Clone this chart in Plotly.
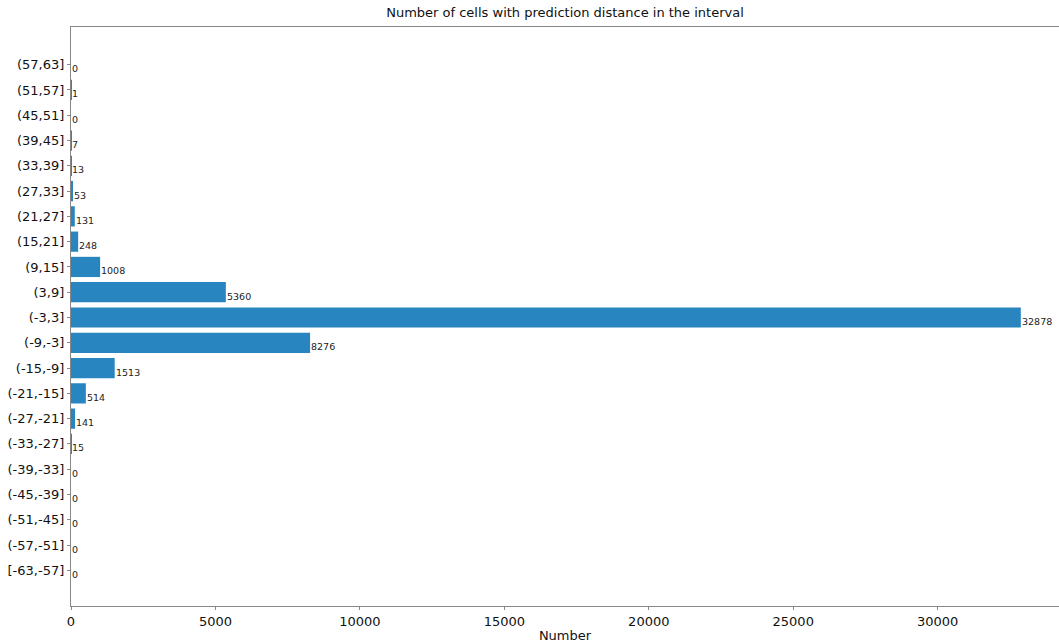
import plotly.graph_objects as go

categories = ["[-63,-57]", "(-57,-51]", "(-51,-45]", "(-45,-39]", "(-39,-33]", "(-33,-27]",
              "(-27,-21]", "(-21,-15]", "(-15,-9]", "(-9,-3]", "(-3,3]", "(3,9]", "(9,15]",
              "(15,21]", "(21,27]", "(27,33]", "(33,39]", "(39,45]", "(45,51]", "(51,57]", "(57,63]"]
counts = [0, 0, 0, 0, 0, 15, 141, 514, 1513, 8276, 32878, 5360, 1008, 248, 131, 53, 13, 7, 0, 1, 0]
x_ticks = [0, 5000, 10000, 15000, 20000, 25000, 30000]

positions = list(range(len(categories)))
font = "DejaVu Sans, Liberation Sans, sans-serif"

fig = go.Figure()
fig.add_trace(go.Bar(
    x=counts, y=positions, orientation="h", width=0.8,
    marker=dict(color="#2885c0", line=dict(width=0)),
    showlegend=False,
))
for p, c in zip(positions, counts):
    fig.add_annotation(x=c, y=p, text=str(c), showarrow=False, xanchor="left", yanchor="middle",
                       xshift=-1, yshift=-4, font=dict(family=font, size=9.5, color="#222"))

fig.update_layout(
    width=1059, height=643,
    margin=dict(l=71, r=0, t=27, b=32),
    plot_bgcolor="white", paper_bgcolor="white",
    title=dict(text="Number of cells with prediction distance in the interval",
               x=0.5, xref="paper", xanchor="center", y=1, yref="container", yanchor="top", pad=dict(t=8),
               font=dict(family=font, size=13, color="#111")),
    xaxis=dict(range=[0, 34200], tickvals=x_ticks, ticktext=[str(v) for v in x_ticks],
               showgrid=False, zeroline=False, showline=True, linecolor="#888", linewidth=1.2, mirror=True,
               ticks="outside", ticklen=3, tickcolor="#888",
               tickfont=dict(family=font, size=13, color="#111"),
               title=dict(text="Number", font=dict(family=font, size=13, color="#111"), standoff=5)),
    yaxis=dict(range=[-1.41, 21.49], tickvals=positions, ticktext=categories,
               showgrid=False, zeroline=False, showline=True, linecolor="#888", linewidth=1.2,
               ticks="outside", ticklen=3, tickcolor="#888",
               tickfont=dict(family=font, size=13, color="#111")),
)

fig.write_html("out.html")
